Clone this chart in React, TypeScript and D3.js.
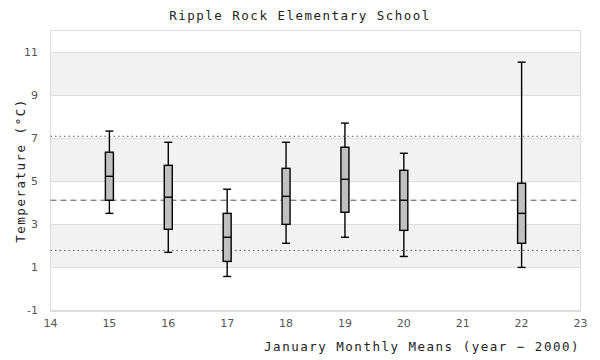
import React from "react";
import * as d3 from "d3";

const years = [15, 16, 17, 18, 19, 20, 22];
const whiskerLow = [3.51, 1.7, 0.58, 2.12, 2.4, 1.51, 1.0];
const q1 = [4.12, 2.77, 1.28, 3.0, 3.56, 2.72, 2.12];
const median = [5.23, 4.26, 2.4, 4.3, 5.09, 4.12, 3.51];
const q3 = [6.35, 5.74, 3.51, 5.6, 6.58, 5.51, 4.91];
const whiskerHigh = [7.33, 6.81, 4.63, 6.81, 7.7, 6.3, 10.53];

const refLines = [
  { value: 7.09, dash: "1.5,3" },
  { value: 4.12, dash: "6,4" },
  { value: 1.79, dash: "1.5,3" },
];

const xTicks = [14, 15, 16, 17, 18, 19, 20, 21, 22, 23];
const yTicks = [-1, 1, 3, 5, 7, 9, 11];
const bands = [
  [1, 3],
  [5, 7],
  [9, 11],
];

const title = "Ripple Rock Elementary School";
const xLabel = "January Monthly Means (year \u2212 2000)";
const yLabel = "Temperature (\u00B0C)";

export default function App() {
  const W = 600;
  const H = 360;
  const L = 50.5, R = 580.5, T = 30.5, B = 310.5;
  const x = d3.scaleLinear().domain([14, 23]).range([L, R]);
  const y = d3.scaleLinear().domain([-1, 12]).range([B, T]);
  const bw = 8;
  const mono = "'DejaVu Sans Mono', 'Liberation Mono', monospace";
  const sans = "'DejaVu Sans', Verdana, sans-serif";

  return (
    <svg width={W} height={H} style={{ position: "absolute", left: 0, top: 0, display: "block" }}>
      <rect x={0} y={0} width={W} height={H} fill="#fff" />
      {bands.map(([a, b], i) => (
        <rect key={i} x={L} y={y(b)} width={R - L} height={y(a) - y(b)} fill="#f2f2f2" />
      ))}
      {yTicks.map((t) => (
        <line key={t} x1={L} x2={R} y1={Math.round(y(t)) + 0.5} y2={Math.round(y(t)) + 0.5} stroke="#dedede" strokeWidth={1} />
      ))}
      <rect x={L} y={T} width={R - L} height={B - T} fill="none" stroke="#dcdcdc" strokeWidth={1} />
      {refLines.map((r, i) => (
        <line key={i} x1={L} x2={R} y1={y(r.value)} y2={y(r.value)} stroke="#555" strokeWidth={1} strokeDasharray={r.dash} />
      ))}
      {years.map((yr, i) => {
        const cx = x(yr);
        return (
          <g key={yr} stroke="#000" strokeWidth={1.4}>
            <line x1={cx} x2={cx} y1={y(whiskerHigh[i])} y2={y(whiskerLow[i])} />
            <line x1={cx - bw / 2} x2={cx + bw / 2} y1={y(whiskerHigh[i])} y2={y(whiskerHigh[i])} />
            <line x1={cx - bw / 2} x2={cx + bw / 2} y1={y(whiskerLow[i])} y2={y(whiskerLow[i])} />
            <rect x={cx - bw / 2} y={y(q3[i])} width={bw} height={y(q1[i]) - y(q3[i])} fill="#c0c0c0" />
            <line x1={cx - bw / 2} x2={cx + bw / 2} y1={y(median[i])} y2={y(median[i])} />
          </g>
        );
      })}
      {yTicks.map((t) => (
        <text key={t} x={38} y={y(t)} dy="0.35em" textAnchor="end" fontFamily={sans} fontSize={11} fill="#555">
          {t}
        </text>
      ))}
      {xTicks.map((t) => (
        <text key={t} x={x(t)} y={327} textAnchor="middle" fontFamily={sans} fontSize={11} fill="#555">
          {t}
        </text>
      ))}
      <text x={300} y={19.5} textAnchor="middle" fontFamily={mono} fontSize={12.5} letterSpacing={1.5} fill="#222">
        {title}
      </text>
      <text x={580} y={351} textAnchor="end" fontFamily={mono} fontSize={12.5} letterSpacing={1.5} fill="#222">
        {xLabel}
      </text>
      <text
        transform={`translate(25, ${(T + B) / 2}) rotate(-90)`}
        textAnchor="middle"
        fontFamily={mono}
        fontSize={12.5}
        letterSpacing={1.5}
        fill="#222"
      >
        {yLabel}
      </text>
    </svg>
  );
}
